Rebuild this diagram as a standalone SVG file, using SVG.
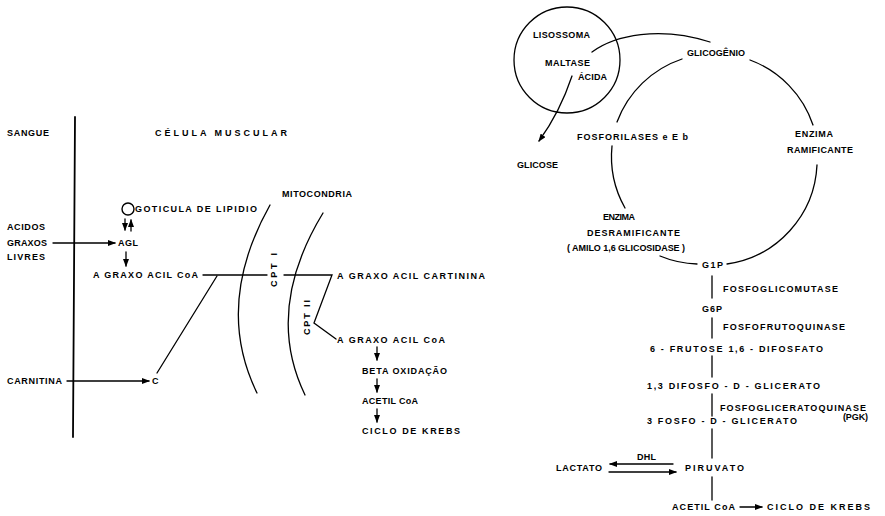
<svg xmlns="http://www.w3.org/2000/svg" width="885" height="516" viewBox="0 0 885 516">
  <style>
    .t { font-family: "Liberation Sans", Arial, sans-serif; font-weight: bold; font-size: 9px; fill: #000; }
    .ln { fill: none; stroke: #000; stroke-width: 1.3; stroke-linecap: round; }
    .thick { stroke-width: 1.8; }
  </style>
  <defs>
    <marker id="ah" markerUnits="userSpaceOnUse" markerWidth="8" markerHeight="6" refX="7" refY="3" orient="auto">
      <path d="M0,0 L8,3 L0,6 z" fill="#000"/>
    </marker>
  </defs>
  <rect width="885" height="516" fill="#fff"/>

  <!-- Left scheme: fatty acid transport into the mitochondrion -->
  <g id="sangue"><text class="t" x="7" y="136" textLength="42" lengthAdjust="spacing">SANGUE</text></g>
  <g id="celula"><text class="t" x="155" y="136" textLength="132" lengthAdjust="spacing">CÉLULA  MUSCULAR</text></g>
  <g id="goticula">
    <circle cx="128" cy="209" r="6" fill="none" stroke="#000" stroke-width="1.4"/>
    <text class="t" x="135" y="212" textLength="122" lengthAdjust="spacing">GOTICULA DE LIPIDIO</text>
  </g>
  <g id="acidos-graxos">
    <text class="t" x="7" y="230" textLength="38" lengthAdjust="spacing">ACIDOS</text>
    <text class="t" x="7" y="246" textLength="40" lengthAdjust="spacing">GRAXOS</text>
    <text class="t" x="7" y="260" textLength="38" lengthAdjust="spacing">LIVRES</text>
  </g>
  <g id="agl"><text class="t" x="118" y="246" textLength="20" lengthAdjust="spacing">AGL</text></g>
  <g id="acil-coa-1"><text class="t" x="93" y="278" textLength="105" lengthAdjust="spacing">A GRAXO ACIL CoA</text></g>
  <g id="cpt1"><text class="t" transform="translate(277,287) rotate(-90)" x="0" y="0" textLength="34" lengthAdjust="spacing">CPT I</text></g>
  <g id="mitocondria"><text class="t" x="282" y="197" textLength="70" lengthAdjust="spacing">MITOCONDRIA</text></g>
  <g id="acil-carnitina"><text class="t" x="337" y="279" textLength="148" lengthAdjust="spacing">A GRAXO ACIL CARTININA</text></g>
  <g id="cpt2"><text class="t" transform="translate(310,335) rotate(-90)" x="0" y="0" textLength="35" lengthAdjust="spacing">CPT II</text></g>
  <g id="acil-coa-2"><text class="t" x="337" y="343" textLength="108" lengthAdjust="spacing">A GRAXO ACIL CoA</text></g>
  <g id="beta"><text class="t" x="362" y="374" textLength="85" lengthAdjust="spacing">BETA OXIDAÇÃO</text></g>
  <g id="acetil-1"><text class="t" x="362" y="404" textLength="56" lengthAdjust="spacing">ACETIL CoA</text></g>
  <g id="krebs-1"><text class="t" x="362" y="434" textLength="98" lengthAdjust="spacing">CICLO DE KREBS</text></g>
  <g id="carnitina"><text class="t" x="7" y="384" textLength="55" lengthAdjust="spacing">CARNITINA</text></g>
  <g id="c"><text class="t" x="152" y="384">C</text></g>

  <!-- Right scheme: glycogen metabolism and glycolysis -->
  <g id="lisossoma">
    <circle cx="567" cy="60" r="53" fill="none" stroke="#000" stroke-width="1.3"/>
    <text class="t" x="533" y="38" textLength="57" lengthAdjust="spacing">LISOSSOMA</text>
    <text class="t" x="545" y="66" textLength="45" lengthAdjust="spacing">MALTASE</text>
    <text class="t" x="578" y="80" textLength="29" lengthAdjust="spacing">ÁCIDA</text>
  </g>
  <g id="glicose"><text class="t" x="517" y="168" textLength="41" lengthAdjust="spacing">GLICOSE</text></g>
  <g id="glicogenio"><text class="t" x="687" y="56" textLength="58" lengthAdjust="spacing">GLICOGÊNIO</text></g>
  <g id="fosforilases"><text class="t" x="577" y="140" textLength="111" lengthAdjust="spacing">FOSFORILASES e E b</text></g>
  <g id="ramificante">
    <text class="t" x="795" y="137" textLength="38" lengthAdjust="spacing">ENZIMA</text>
    <text class="t" x="787" y="153" textLength="66" lengthAdjust="spacing">RAMIFICANTE</text>
  </g>
  <g id="desramificante">
    <text class="t" x="603" y="220" textLength="32" lengthAdjust="spacing">ENZIMA</text>
    <text class="t" x="587" y="236" textLength="93" lengthAdjust="spacing">DESRAMIFICANTE</text>
    <text class="t" x="567" y="251" textLength="118" lengthAdjust="spacing">( AMILO 1,6 GLICOSIDASE )</text>
  </g>
  <g id="g1p"><text class="t" x="702" y="268" textLength="21" lengthAdjust="spacing">G1P</text></g>
  <g id="fosfoglicomutase"><text class="t" x="723" y="292" textLength="115" lengthAdjust="spacing">FOSFOGLICOMUTASE</text></g>
  <g id="g6p"><text class="t" x="702" y="312" textLength="20" lengthAdjust="spacing">G6P</text></g>
  <g id="fosfofrutoquinase"><text class="t" x="723" y="330" textLength="122" lengthAdjust="spacing">FOSFOFRUTOQUINASE</text></g>
  <g id="frutose"><text class="t" x="650" y="352" textLength="173" lengthAdjust="spacing">6 - FRUTOSE 1,6 - DIFOSFATO</text></g>
  <g id="difosfoglicerato"><text class="t" x="647" y="389" textLength="173" lengthAdjust="spacing">1,3 DIFOSFO - D - GLICERATO</text></g>
  <g id="pgk">
    <text class="t" x="720" y="411" textLength="146" lengthAdjust="spacing">FOSFOGLICERATOQUINASE</text>
    <text class="t" x="843" y="420" textLength="25" lengthAdjust="spacing">(PGK)</text>
  </g>
  <g id="fosfoglicerato"><text class="t" x="647" y="424" textLength="150" lengthAdjust="spacing">3 FOSFO - D - GLICERATO</text></g>
  <g id="dhl"><text class="t" x="637" y="460" textLength="19" lengthAdjust="spacing">DHL</text></g>
  <g id="lactato"><text class="t" x="556" y="471" textLength="46" lengthAdjust="spacing">LACTATO</text></g>
  <g id="piruvato"><text class="t" x="685" y="471" textLength="59" lengthAdjust="spacing">PIRUVATO</text></g>
  <g id="acetil-2"><text class="t" x="672" y="510" textLength="63" lengthAdjust="spacing">ACETIL CoA</text></g>
  <g id="krebs-2"><text class="t" x="767" y="510" textLength="103" lengthAdjust="spacing">CICLO DE KREBS</text></g>

  <g id="connectors">
    <!-- cell membrane -->
    <path class="ln thick" d="M75,117 L73,437"/>
    <!-- mitochondrial membranes -->
    <path class="ln" d="M270,205 Q214,305 257,393"/>
    <path class="ln" d="M323,213 Q264,310 305,395"/>
    <!-- lipid droplet exchange -->
    <path class="ln" d="M125,219 L125,230" marker-end="url(#ah)"/>
    <path class="ln" d="M131,231 L131,220" marker-end="url(#ah)"/>
    <!-- entry of fatty acids and carnitine -->
    <path class="ln" d="M53,243 L115,243" marker-end="url(#ah)"/>
    <path class="ln" d="M126,252 L126,266" marker-end="url(#ah)"/>
    <path class="ln" d="M67,381 L149,381" marker-end="url(#ah)"/>
    <path class="ln" d="M217,276 L157,373"/>
    <!-- transfer through CPT I and CPT II -->
    <path class="ln" d="M203,275 L267,275"/>
    <path class="ln" d="M284,275 L332,275 L314,323 L336,339"/>
    <path class="ln" d="M377,347 L377,360" marker-end="url(#ah)"/>
    <path class="ln" d="M377,379 L377,392" marker-end="url(#ah)"/>
    <path class="ln" d="M377,409 L377,422" marker-end="url(#ah)"/>

    <!-- lysosomal pathway -->
    <path class="ln" d="M592,52 C615,35 660,26 710,42"/>
    <path class="ln" d="M572,76 Q560,112 539,141" marker-end="url(#ah)"/>
    <!-- glycogen cycle -->
    <path class="ln" d="M682,59 A105,105 0 0 0 617,122"/>
    <path class="ln" d="M612,146 A105,105 0 0 0 625,208"/>
    <path class="ln" d="M660,256 A105,105 0 0 0 697,264"/>
    <path class="ln" d="M727,264 A105,105 0 0 0 817,165"/>
    <path class="ln" d="M813,125 A105,105 0 0 0 750,60"/>
    <!-- glycolysis -->
    <path class="ln" d="M712,276 L712,298"/>
    <path class="ln" d="M712,318 L712,338"/>
    <path class="ln" d="M712,356 L712,377"/>
    <path class="ln" d="M712,394 L712,416"/>
    <path class="ln" d="M712,429 L712,458"/>
    <path class="ln" d="M712,477 L712,500"/>
    <path class="ln" d="M673,464 L610,464" marker-end="url(#ah)"/>
    <path class="ln" d="M609,472 L676,472" marker-end="url(#ah)"/>
    <path class="ln" d="M740,507 L762,507" marker-end="url(#ah)"/>
  </g>
</svg>
